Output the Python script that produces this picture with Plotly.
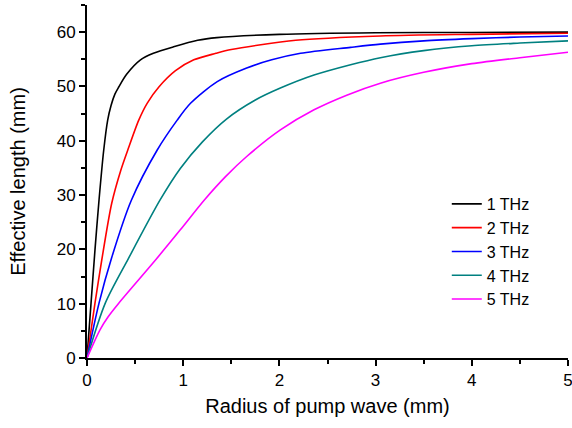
# Effective length vs pump radius

import plotly.graph_objects as go

# %% Dados
x_1thz = [0, 0.042, 0.083, 0.125, 0.174, 0.215, 0.25, 0.29, 0.33, 0.41, 0.556, 0.69, 0.90, 1.15, 1.35, 2.0, 3.0, 4.0, 5.0]
y_1thz = [0, 10.1, 19.9, 29.1, 38.3, 43.8, 46.5, 48.6, 49.9, 52.2, 54.9, 56.1, 57.3, 58.5, 59.0, 59.6, 59.9, 59.95, 60.0]

x_2thz = [0, 0.083, 0.153, 0.257, 0.35, 0.424, 0.538, 0.625, 0.747, 0.92, 1.11, 1.34, 1.5, 2.17, 3.05, 4.0, 5.0]
y_2thz = [0, 10.1, 18.0, 28.5, 34.5, 38.3, 43.8, 46.9, 49.9, 52.9, 54.9, 56.1, 56.8, 58.5, 59.3, 59.6, 59.8]

x_3thz = [0, 0.125, 0.257, 0.46, 0.73, 0.9375, 1.076, 1.354, 1.66, 1.92, 2.22, 2.74, 3.05, 3.5, 4.0, 4.5, 5.0]
y_3thz = [0, 10.1, 18.5, 29.0, 38.3, 43.8, 46.9, 50.9, 53.4, 54.9, 56.1, 57.2, 57.8, 58.4, 58.8, 59.1, 59.3]

x_4thz = [0, 0.19, 0.43, 0.76, 0.97, 1.20, 1.45, 1.75, 2.01, 2.36, 2.74, 3.05, 3.5, 4.0, 4.5, 5.0]
y_4thz = [0, 10.1, 18.3, 29.1, 34.9, 39.8, 44.0, 47.5, 49.7, 52.1, 54.0, 55.3, 56.6, 57.5, 58.0, 58.4]

x_5thz = [0, 0.135, 0.22, 0.33, 0.71, 0.97, 1.22, 1.44, 1.66, 2.01, 2.36, 2.70, 3.05, 3.5, 4.0, 4.5, 5.0]
y_5thz = [0, 5.2, 7.6, 10.1, 18.0, 23.6, 29.1, 33.4, 37.1, 42.0, 45.7, 48.4, 50.6, 52.6, 54.2, 55.3, 56.3]

nomes = ['1 THz', '2 THz', '3 THz', '4 THz', '5 THz']
cores = ['#000000', '#ff0000', '#0000ff', '#008080', '#ff00ff']

series = [(x_1thz, y_1thz), (x_2thz, y_2thz), (x_3thz, y_3thz), (x_4thz, y_4thz), (x_5thz, y_5thz)]

# %% Figura
fig = go.Figure()
for (xs, ys), nome, cor in zip(series, nomes, cores):
    fig.add_trace(go.Scatter(x=xs, y=ys, mode='lines', name=nome,
                             line=dict(color=cor, width=1.6, shape='spline', smoothing=0.8)))

eixo = dict(showline=True, linecolor='black', linewidth=2, ticks='outside',
            ticklen=6, tickwidth=2, tickcolor='black', showgrid=False, zeroline=False,
            tickfont=dict(size=17, color='black'), mirror=False, ticklabeloverflow='allow')

fig.update_layout(
    width=572, height=428,
    margin=dict(l=87, r=4, t=5, b=70),
    paper_bgcolor='white', plot_bgcolor='white',
    font=dict(family='Liberation Sans, Arial, sans-serif', size=17, color='black'),
    xaxis=dict(eixo, range=[0, 5], dtick=1, automargin='height',
               title=dict(text='Radius of pump wave (mm)', standoff=10),
               minor=dict(dtick=0.5, ticklen=4, tickwidth=2, tickcolor='black', ticks='outside')),
    yaxis=dict(eixo, range=[0, 65], dtick=10, automargin='width',
               title=dict(text='Effective length (mm)', standoff=26),
               minor=dict(dtick=5, ticklen=4, tickwidth=2, tickcolor='black', ticks='outside')),
    legend=dict(x=0.748, y=0.4845, xanchor='left', yanchor='top', bgcolor='rgba(0,0,0,0)',
                font=dict(size=16), tracegroupgap=0),
    showlegend=True,
)

# tirar a margem do body para a figura ocupar a janela inteira
fig.write_html("out.html", config={'displayModeBar': False},
               post_script="document.body.style.margin='0';")
